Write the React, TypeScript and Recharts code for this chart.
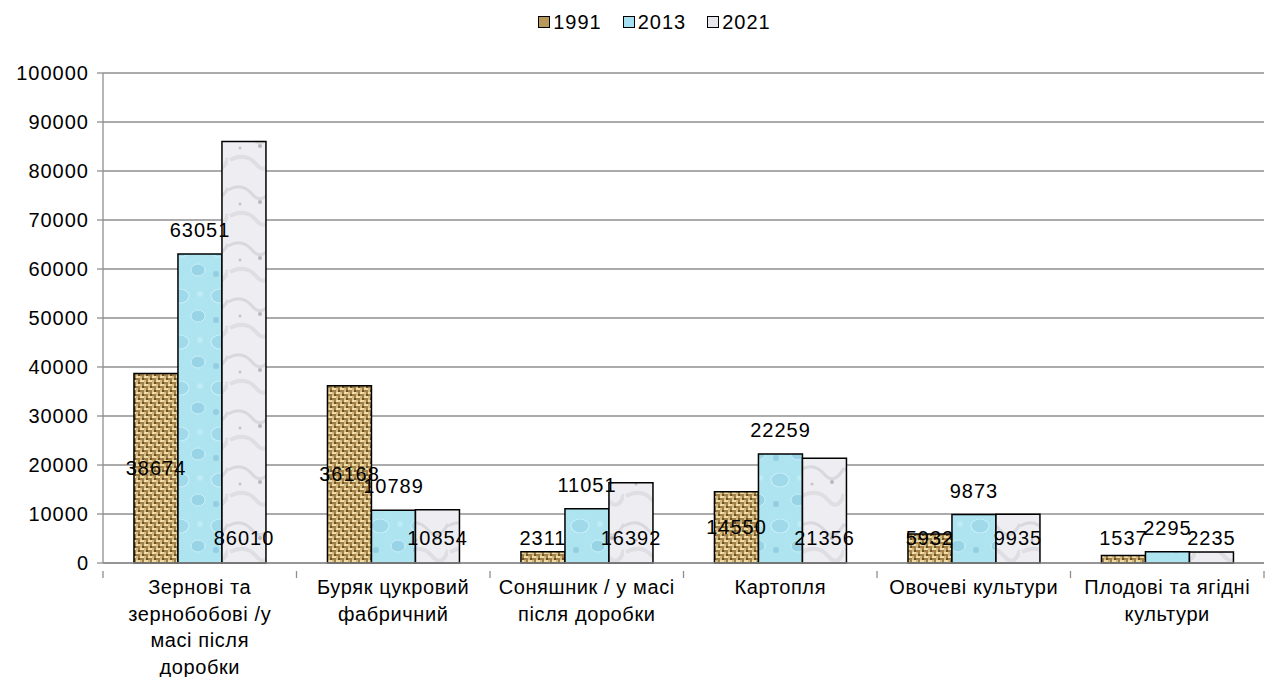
import React from "react";
import { BarChart, Bar, XAxis, YAxis, CartesianGrid, Legend, LabelList } from "recharts";

const categories = [
  "Зернові та\nзернобобові /у\nмасі після\nдоробки",
  "Буряк цукровий\nфабричний",
  "Соняшник / у масі\nпісля доробки",
  "Картопля",
  "Овочеві культури",
  "Плодові та ягідні\nкультури",
];
const values1991 = [38674, 36168, 2311, 14550, 5932, 1537];
const values2013 = [63051, 10789, 11051, 22259, 9873, 2295];
const values2021 = [86010, 10854, 16392, 21356, 9935, 2235];
const yTicks = [0, 10000, 20000, 30000, 40000, 50000, 60000, 70000, 80000, 90000, 100000];

const data = categories.map((name, i) => ({
  name,
  y1991: values1991[i],
  y2013: values2013[i],
  y2021: values2021[i],
}));

const FONT = "'Liberation Sans', Arial, sans-serif";
const GRID = "#8f8f8f";

const legendItems = [
  { label: "1991", fill: "#b8975a" },
  { label: "2013", fill: "#a6dff0" },
  { label: "2021", fill: "#e6e6ec" },
];

function LegendContent() {
  return (
    <div
      style={{
        display: "flex",
        justifyContent: "center",
        alignItems: "center",
        height: 24,
        paddingLeft: 48,
        fontFamily: FONT,
        fontSize: 20,
        letterSpacing: 1,
        color: "#000",
      }}
    >
      {legendItems.map((it) => (
        <div key={it.label} style={{ display: "flex", alignItems: "center", marginRight: 21 }}>
          <span
            style={{
              display: "inline-block",
              width: 10,
              height: 10,
              border: "1.5px solid #000",
              background: it.fill,
              marginRight: 3,
            }}
          />
          {it.label}
        </div>
      ))}
    </div>
  );
}

type LabelMode = "center" | "top" | "base";

const makeLabel = (mode: LabelMode) => (props: any) => {
  const x = Number(props.x);
  const y = Number(props.y);
  const width = Number(props.width);
  const height = Number(props.height);
  const base = y + height;
  let cy = base - 25;
  if (mode === "center") cy = Math.min(y + height / 2, base - 25);
  if (mode === "top") cy = y - 24;
  return (
    <text
      x={x + width / 2}
      y={cy}
      textAnchor="middle"
      dominantBaseline="central"
      fontFamily={FONT}
      fontSize={20}
      letterSpacing={1}
      fill="#000"
    >
      {props.value}
    </text>
  );
};

function CategoryTick(props: any) {
  const { x, y, payload, index } = props;
  const half = payload && payload.offset ? payload.offset : 96.75;
  const lines = String(payload.value).split("\n");
  return (
    <g>
      <line x1={x - half} y1={y} x2={x - half} y2={y + 7} stroke={GRID} strokeWidth={1.3} />
      {index === categories.length - 1 && (
        <line x1={x + half} y1={y} x2={x + half} y2={y + 7} stroke={GRID} strokeWidth={1.3} />
      )}
      <text
        x={x}
        y={y + 23}
        textAnchor="middle"
        fontFamily={FONT}
        fontSize={20}
        letterSpacing={0.6}
        fill="#000"
      >
        {lines.map((l, i) => (
          <tspan key={i} x={x} dy={i === 0 ? 0 : 26.5}>
            {l}
          </tspan>
        ))}
      </text>
    </g>
  );
}

export default function App() {
  return (
    <BarChart
      width={1266}
      height={669}
      data={data}
      margin={{ top: 41, right: 10, left: 0, bottom: 4 }}
      barCategoryGap="16%"
      barGap={0}
    >
      <defs>
        <pattern id="burlap" patternUnits="userSpaceOnUse" width="8" height="8">
          <rect width="8" height="8" fill="#a08048" />
          <rect x="0" y="0" width="4" height="2" fill="#f0dca6" />
          <rect x="4" y="4" width="4" height="2" fill="#f0dca6" />
          <rect x="4" y="0" width="2" height="4" fill="#d6bb7e" />
          <rect x="0" y="4" width="2" height="4" fill="#d6bb7e" />
          <rect x="6" y="2" width="2" height="2" fill="#6a5028" />
          <rect x="2" y="6" width="2" height="2" fill="#6a5028" />
        </pattern>
        <pattern id="water" patternUnits="userSpaceOnUse" width="40" height="46">
          <rect width="40" height="46" fill="#aee3f0" />
          <ellipse cx="12" cy="12" rx="9" ry="7" fill="#9fd9ea" stroke="#c4eef8" strokeWidth="1.2" />
          <ellipse cx="30" cy="32" rx="7" ry="6" fill="#99d4e6" stroke="#c8f0f9" strokeWidth="1" />
          <circle cx="32" cy="10" r="3" fill="#bdebf6" />
          <circle cx="8" cy="36" r="3" fill="#93cee1" />
        </pattern>
        <pattern id="marble" patternUnits="userSpaceOnUse" width="44" height="56">
          <rect width="44" height="56" fill="#eeeef2" />
          <path d="M0 14 Q14 6 24 18 T44 12" stroke="#d8d8de" strokeWidth="3" fill="none" />
          <path d="M2 40 Q18 32 28 44 T44 38" stroke="#dedee3" strokeWidth="4" fill="none" />
          <circle cx="32" cy="26" r="2" fill="#b8b8c0" />
          <circle cx="12" cy="28" r="1.5" fill="#c4c4cb" />
        </pattern>
      </defs>
      <CartesianGrid vertical={false} stroke={GRID} strokeWidth={1.3} />
      <XAxis
        dataKey="name"
        height={110}
        interval={0}
        tickLine={false}
        axisLine={{ stroke: GRID, strokeWidth: 1.3 }}
        tick={<CategoryTick />}
      />
      <YAxis
        width={95}
        domain={[0, 100000]}
        ticks={yTicks}
        interval={0}
        tickSize={6}
        tickMargin={8}
        axisLine={{ stroke: GRID, strokeWidth: 1.3 }}
        tickLine={{ stroke: GRID, strokeWidth: 1.3 }}
        tick={{ fontFamily: FONT, fontSize: 20, fill: "#000", letterSpacing: 1 }}
      />
      <Legend
        verticalAlign="top"
        content={<LegendContent />}
        wrapperStyle={{ top: 2, left: 0, width: 1266, height: 24 }}
      />
      <Bar dataKey="y1991" name="1991" fill="url(#burlap)" stroke="#000" strokeWidth={1.5} isAnimationActive={false}>
        <LabelList dataKey="y1991" content={makeLabel("center")} />
      </Bar>
      <Bar dataKey="y2013" name="2013" fill="url(#water)" stroke="#000" strokeWidth={1.5} isAnimationActive={false}>
        <LabelList dataKey="y2013" content={makeLabel("top")} />
      </Bar>
      <Bar dataKey="y2021" name="2021" fill="url(#marble)" stroke="#000" strokeWidth={1.5} isAnimationActive={false}>
        <LabelList dataKey="y2021" content={makeLabel("base")} />
      </Bar>
    </BarChart>
  );
}
